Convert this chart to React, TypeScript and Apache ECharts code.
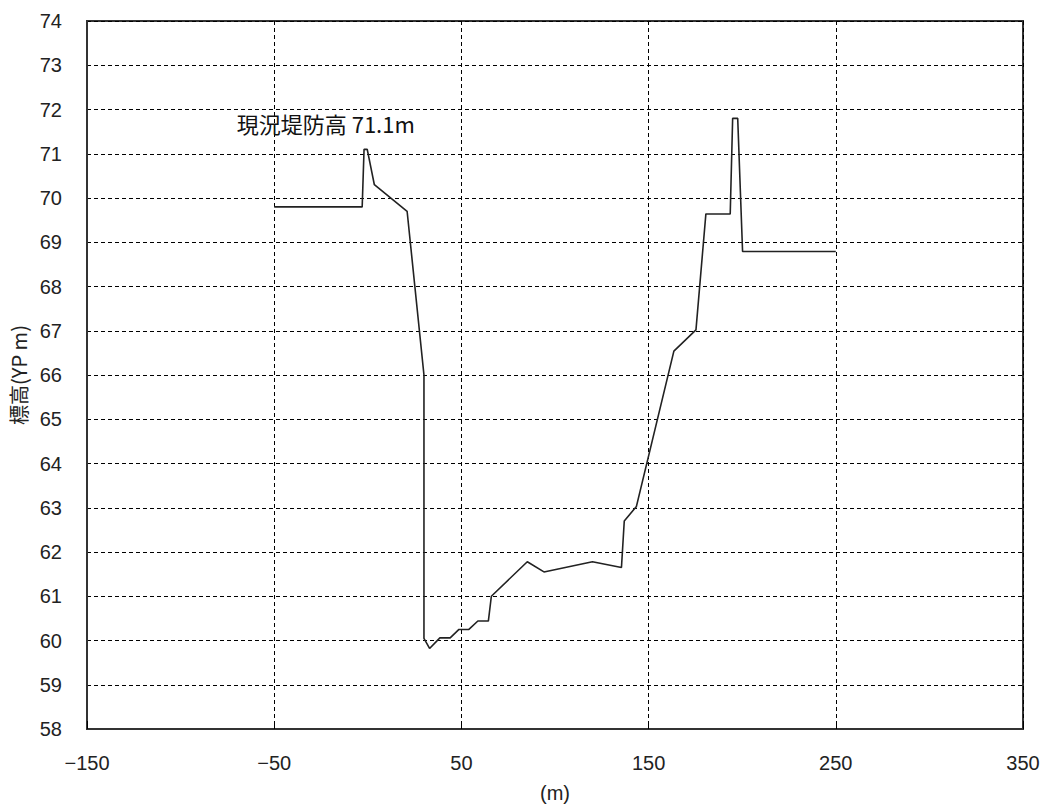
import React, { useEffect, useRef } from "react";
import * as echarts from "echarts";

const xValues = [-50, -3, -2, -0.3, 3.5, 21, 30, 30, 33, 38.5, 44, 48.7, 54, 58.8, 64.4, 66, 85.2, 94.1, 120, 135.5, 137, 143.5, 163.5, 175.3, 180.6, 193.6, 194.9, 197.6, 200.2, 250];
const yValues = [69.8, 69.8, 71.1, 71.1, 70.3, 69.7, 66.0, 60.05, 59.82, 60.06, 60.06, 60.25, 60.25, 60.44, 60.44, 61.0, 61.78, 61.55, 61.78, 61.65, 62.7, 63.03, 66.54, 67.02, 69.64, 69.64, 71.8, 71.8, 68.79, 68.79];
const xTicks = [-150, -50, 50, 150, 250, 350];
const annotationText = "現況堤防高 71.1m";
const annotationAt = [-70, 71.7];

export default function App() {
  const ref = useRef<HTMLDivElement>(null);
  useEffect(() => {
    if (!ref.current) return;
    const chart = echarts.init(ref.current, null, { renderer: "svg" });
    const labelFont = { fontFamily: "Liberation Sans", fontSize: 20, color: "#222" };
    chart.setOption({
      animation: false,
      backgroundColor: "#fff",
      grid: {
        left: 87,
        top: 21,
        right: 30,
        bottom: 81,
        show: true,
        borderColor: "#333",
        borderWidth: 2,
      },
      xAxis: {
        type: "value",
        min: -150,
        max: 350,
        interval: 50,
        name: "(m)",
        nameLocation: "middle",
        nameGap: 54,
        nameTextStyle: { ...labelFont },
        axisLine: { show: true, onZero: false, lineStyle: { color: "#333", width: 2 } },
        axisTick: { show: true, inside: true, length: 8, customValues: xTicks, lineStyle: { color: "#000" } },
        axisLabel: { ...labelFont, margin: 24, customValues: xTicks, formatter: (v: number) => (v < 0 ? "\u2212" + Math.abs(v) : String(v)) },
        splitLine: { show: true, lineStyle: { color: "#000", type: [4, 3], width: 1 } },
      },
      yAxis: {
        type: "value",
        min: 58,
        max: 74,
        interval: 1,
        name: "標高(YP m)",
        nameLocation: "middle",
        nameGap: 52,
        nameTextStyle: { fontFamily: "Noto Sans CJK JP", fontSize: 20, color: "#222" },
        axisLine: { show: true, onZero: false, lineStyle: { color: "#333", width: 2 } },
        axisTick: { show: false },
        axisLabel: { ...labelFont, margin: 25 },
        splitLine: { show: true, lineStyle: { color: "#000", type: [4, 3], width: 1 } },
      },
      series: [
        {
          type: "line",
          data: xValues.map((x, i) => [x, yValues[i]]),
          showSymbol: false,
          symbol: "none",
          lineStyle: { color: "#222", width: 1.6 },
          markPoint: {
            symbol: "circle",
            symbolSize: 0,
            data: [
              {
                coord: annotationAt,
                label: {
                  show: true,
                  position: "right",
                  distance: 0,
                  formatter: annotationText,
                  fontFamily: "Noto Sans CJK JP",
                  fontSize: 22,
                  color: "#111",
                },
              },
            ],
          },
        },
      ],
    });
    return () => chart.dispose();
  }, []);
  return <div ref={ref} style={{ position: "fixed", left: 0, top: 0, width: 1053, height: 810 }} />;
}
